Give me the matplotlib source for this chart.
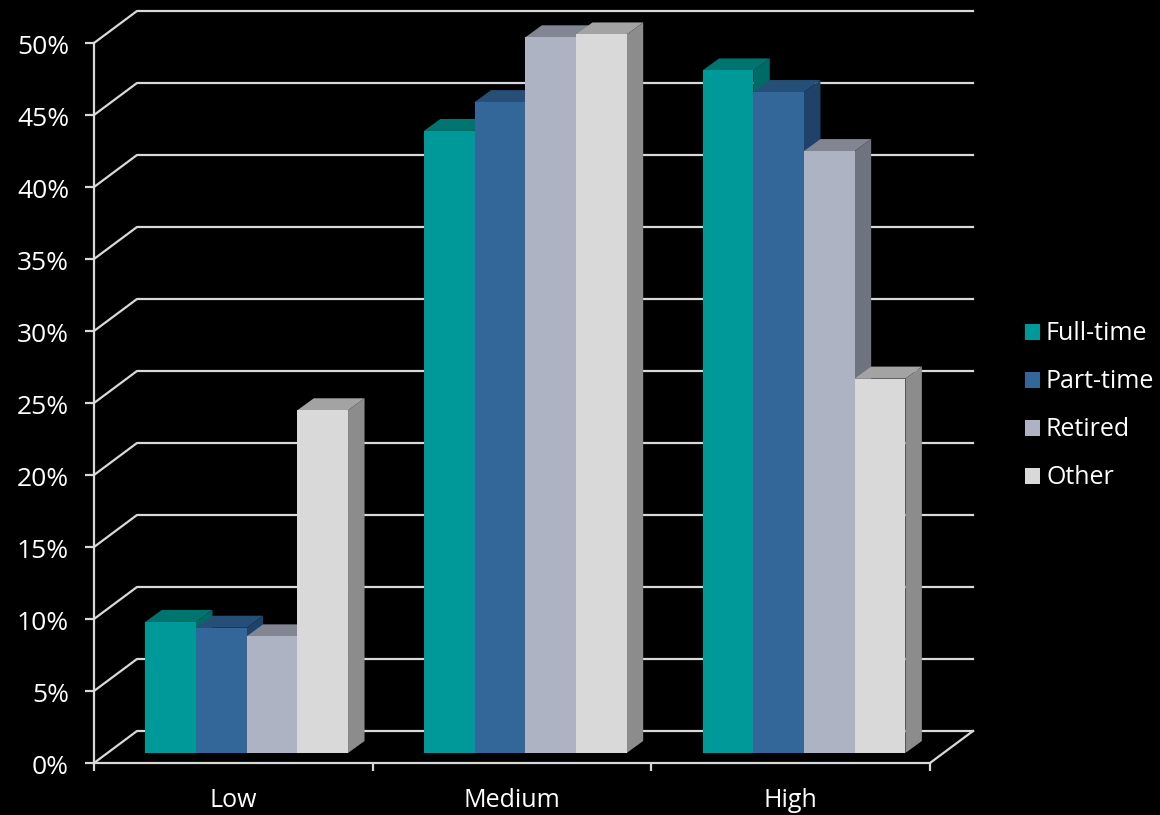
import numpy as np
import matplotlib
matplotlib.use('Agg')
import matplotlib.pyplot as plt
from matplotlib.transforms import Affine2D

plt.rcParams['font.family'] = ['Open Sans', 'DejaVu Sans']

categories = ['Low', 'Medium', 'High']
full_time = [9.1, 43.2, 47.4]
part_time = [8.7, 45.2, 45.9]
retired = [8.1, 49.7, 41.8]
other = [23.8, 49.9, 26.0]
series_names = ['Full-time', 'Part-time', 'Retired', 'Other']
y_ticks = [0, 5, 10, 15, 20, 25, 30, 35, 40, 45, 50]

# front, top, side colour for each series
colors = [('#009999', '#007570', '#006B66'),
          ('#336699', '#264F78', '#1F4268'),
          ('#ADB3C3', '#828692', '#6F737D'),
          ('#D9D9D9', '#A3A3A3', '#8C8C8C')]
line_col = '#D9D9D9'

fig = plt.figure(figsize=(11.6, 8.15), dpi=100, facecolor='black')
ax = fig.add_axes([94 / 1160, 52 / 815, 836 / 1160, 720 / 815])
ax.set_facecolor('black')
ax.patch.set_alpha(0)
ax.set_xlim(0, 3)
ax.set_ylim(0, 50)

px_x = 3 / 836   # x units per pixel
px_y = 50 / 720  # y units per pixel

# back wall with the slanted lines
wall_dx = 43 * px_x
wall_dy = 32 * px_y
for v in y_ticks:
    ax.plot([0, wall_dx, 3 + wall_dx], [v, v + wall_dy, v + wall_dy],
            color=line_col, lw=1.6, clip_on=False, zorder=1)
ax.plot([3, 3 + wall_dx], [0, wall_dy], color=line_col, lw=1.6, clip_on=False, zorder=1)

# the bars sit a bit back from the front edge
bar_w = 50.7 * px_x
shift_x = 13.3 * px_x
shift_y = 10 * px_y
depth_x = 16.5 * px_x
depth_y = 12 * px_y

z = 2
handles = []
all_series = [full_time, part_time, retired, other]
for c in range(len(categories)):
    for s, vals in enumerate(all_series):
        left = c + 0.5 - 2 * bar_w + s * bar_w + shift_x
        right = left + bar_w
        top = vals[c] + shift_y
        front, top_col, side = colors[s]
        ax.fill([left, left + depth_x, right + depth_x, right],
                [top, top + depth_y, top + depth_y, top],
                color=top_col, lw=0, clip_on=False, zorder=z)
        ax.fill([right, right + depth_x, right + depth_x, right],
                [shift_y, shift_y + depth_y, top + depth_y, top],
                color=side, lw=0, clip_on=False, zorder=z)
        b = ax.bar(left, vals[c], width=bar_w, bottom=shift_y, align='edge',
                   color=front, lw=0, clip_on=False, zorder=z + 1)
        if c == 0:
            handles.append(b[0])
        z += 2

for name in ['top', 'right']:
    ax.spines[name].set_visible(False)
for name in ['left', 'bottom']:
    ax.spines[name].set_color(line_col)
    ax.spines[name].set_linewidth(1.6)
    ax.spines[name].set_zorder(1)

ax.set_yticks(y_ticks)
ax.set_yticklabels([str(v) + '%' for v in y_ticks])
ax.set_xticks([0, 1, 2, 3])
ax.set_xticklabels([])
ax.set_xticks([0.5, 1.5, 2.5], minor=True)
ax.set_xticklabels(categories, minor=True)
ax.tick_params(axis='y', colors=line_col, length=6.5, width=1.6, labelsize=19, pad=11.5, labelcolor='white')
ax.tick_params(axis='x', which='major', colors=line_col, length=6, width=1.6)
ax.tick_params(axis='x', which='minor', length=0, labelsize=18, pad=17.7, labelcolor='white')

# y labels sit 2 px under their ticks in the original
for lab in ax.get_yticklabels():
    lab.set_transform(lab.get_transform() + Affine2D().translate(0, -2))

leg = ax.legend(handles, series_names, loc='center left', bbox_to_anchor=(1025 / 1160, 409 / 815),
                bbox_transform=fig.transFigure, frameon=False, fontsize=18, labelcolor='white',
                handlelength=0.6, handleheight=0.6, handletextpad=0.24, labelspacing=0.92,
                borderpad=0, borderaxespad=0)

fig.savefig('out.png', dpi=100, facecolor='black')
